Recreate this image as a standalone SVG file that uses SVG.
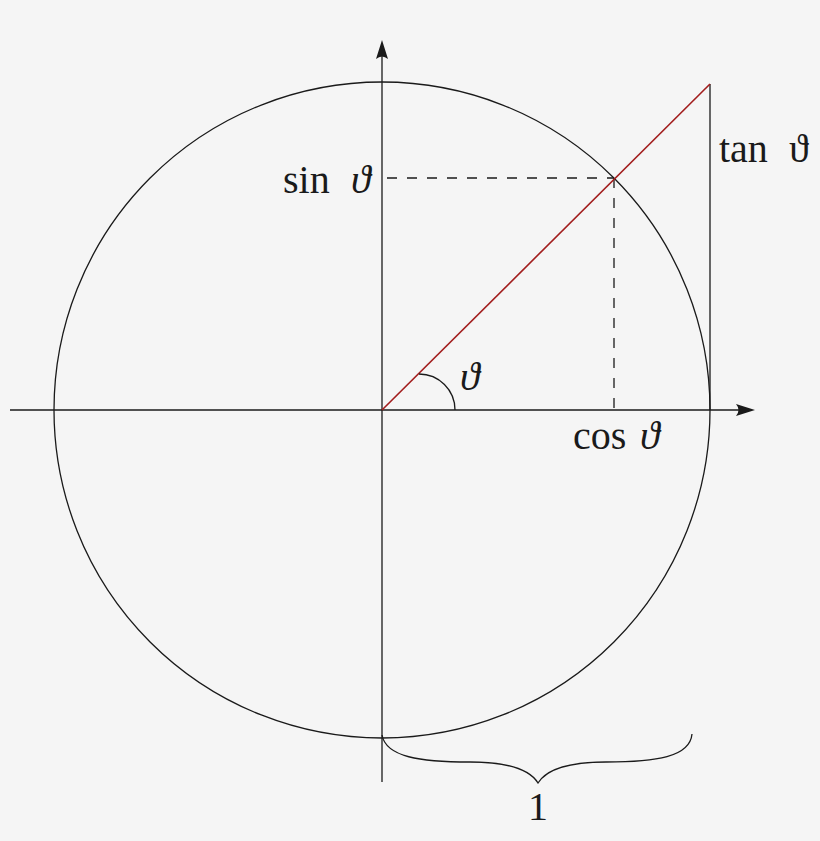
<svg xmlns="http://www.w3.org/2000/svg" width="820" height="841" viewBox="0 0 820 841">
<style>
.ln{fill:none;stroke:#1a1a1a;stroke-width:1.3}
.dash{fill:none;stroke:#1a1a1a;stroke-width:1.3;stroke-dasharray:10 10}
.red{fill:none;stroke:#a21d1d;stroke-width:1.6}
.ah{fill:#1a1a1a;stroke:none}
.t{font-family:"Liberation Serif","DejaVu Serif",serif;font-size:40px;fill:#1a1a1a}
.it{font-style:italic}
</style>
<rect width="820" height="841" fill="#f5f5f5"/>
<g id="circle"><circle cx="382" cy="410" r="328" class="ln"/></g>
<g id="axes">
<line x1="10" y1="410" x2="745" y2="410" class="ln"/>
<path d="M755,410 L736,404 Q741,410 736,416 Z" class="ah"/>
<line x1="382" y1="782" x2="382" y2="50" class="ln"/>
<path d="M382,40 L376,59 Q382,54 388,59 Z" class="ah"/>
</g>
<g id="connectors">
<line x1="387" y1="178" x2="614" y2="178" class="dash"/>
<line x1="614" y1="178" x2="614" y2="410" class="dash"/>
<line x1="710" y1="84" x2="710" y2="410" class="ln"/>
<line x1="382" y1="410" x2="710" y2="84" class="red"/>
<path d="M419,374 A36,36 0 0 1 455,410" class="ln"/>
<path d="M382,735 C386,757 420,762 470,762 C510,762 530,770 538,783 C546,770 566,762 606,762 C656,762 690,757 692,734" class="ln"/>
</g>
<g id="labels">
<text class="t" x="283" y="193">sin</text>
<text class="t it" x="351" y="193">ϑ</text>
<text class="t" x="719" y="162">tan</text>
<text class="t" x="789" y="162">ϑ</text>
<text class="t" x="573" y="449">cos</text>
<text class="t it" x="640" y="449">ϑ</text>
<text class="t it" x="460" y="390">ϑ</text>
<text class="t" x="538" y="820" text-anchor="middle">1</text>
</g>
</svg>
